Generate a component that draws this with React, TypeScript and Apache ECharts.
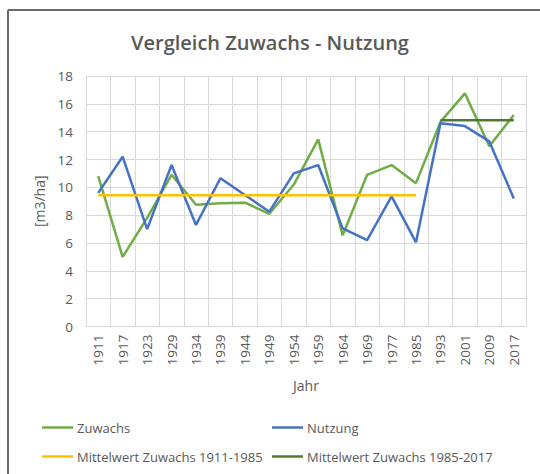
import React, { useEffect, useRef } from "react";
import * as echarts from "echarts";

const years = ["1911", "1917", "1923", "1929", "1934", "1939", "1944", "1949", "1954", "1959", "1964", "1969", "1977", "1985", "1993", "2001", "2009", "2017"];
const zuwachs = [10.8, 5.0, 7.8, 10.9, 8.75, 8.85, 8.9, 8.1, 10.2, 13.45, 6.55, 10.9, 11.6, 10.3, 14.7, 16.75, 12.95, 15.2];
const nutzung = [9.6, 12.2, 7.0, 11.6, 7.3, 10.65, 9.45, 8.25, 11.0, 11.6, 7.05, 6.2, 9.35, 6.05, 14.6, 14.4, 13.3, 9.2];
const mittel1911_1985 = [9.43, 9.43, 9.43, 9.43, 9.43, 9.43, 9.43, 9.43, 9.43, 9.43, 9.43, 9.43, 9.43, 9.43, null, null, null, null];
const mittel1985_2017 = [null, null, null, null, null, null, null, null, null, null, null, null, null, null, 14.82, 14.82, 14.82, 14.82];
const yTicks = { min: 0, max: 18, interval: 2 };

const FONT = "'Open Sans', 'Liberation Sans', sans-serif";
const TXT = "#595959";

export default function App() {
  const ref = useRef<HTMLDivElement>(null);
  useEffect(() => {
    if (!ref.current) return;
    const chart = echarts.init(ref.current, null, { renderer: "svg" });
    const lineSeries = (name: string, data: (number | null)[], color: string) => ({
      name,
      type: "line",
      data,
      symbol: "none",
      lineStyle: { color, width: 2.5 },
      itemStyle: { color },
      connectNulls: false,
    });
    const legendItem = (name: string, left: number, top: number) => ({
      data: [name],
      left,
      top,
      icon: "rect",
      itemWidth: 31,
      itemHeight: 2.5,
      itemGap: 0,
      padding: 0,
      textStyle: { color: TXT, fontSize: 13, fontFamily: FONT, padding: [0, 0, 0, -1] },
    });
    chart.setOption({
      animation: false,
      backgroundColor: "#ffffff",
      title: {
        text: "Vergleich Zuwachs - Nutzung",
        left: "center",
        top: 27,
        textStyle: { color: TXT, fontSize: 20, fontWeight: 600, fontFamily: FONT },
      },
      legend: [
        legendItem("Zuwachs", 42, 421),
        legendItem("Nutzung", 272, 421),
        legendItem("Mittelwert Zuwachs 1911-1985", 42, 450),
        legendItem("Mittelwert Zuwachs 1985-2017", 272, 450),
      ],
      grid: { left: 86, right: 14, top: 76, height: 250.5, containLabel: false },
      xAxis: {
        type: "category",
        data: years,
        boundaryGap: true,
        name: "Jahr",
        nameLocation: "middle",
        nameGap: 52,
        nameTextStyle: { color: TXT, fontSize: 14, fontFamily: FONT },
        axisLine: { show: true, lineStyle: { color: "#d9d9d9", width: 1 } },
        axisTick: { show: false },
        axisLabel: { rotate: 90, color: TXT, fontSize: 13.5, fontFamily: FONT, margin: 8 },
        splitLine: { show: true, lineStyle: { color: "#d9d9d9", width: 1 } },
      },
      yAxis: {
        type: "value",
        min: yTicks.min,
        max: yTicks.max,
        interval: yTicks.interval,
        name: "[m3/ha]",
        nameLocation: "middle",
        nameRotate: 90,
        nameGap: 31,
        nameTextStyle: { color: TXT, fontSize: 14, fontFamily: FONT },
        axisLine: { show: false },
        axisTick: { show: false },
        axisLabel: { color: TXT, fontSize: 13.5, fontFamily: FONT, margin: 13 },
        splitLine: { show: true, lineStyle: { color: "#d9d9d9", width: 1 } },
      },
      series: [
        lineSeries("Zuwachs", zuwachs, "#70AD47"),
        lineSeries("Nutzung", nutzung, "#4472C4"),
        lineSeries("Mittelwert Zuwachs 1911-1985", mittel1911_1985, "#FFC000"),
        lineSeries("Mittelwert Zuwachs 1985-2017", mittel1985_2017, "#4E7A34"),
      ],
      graphic: [
        { type: "line", shape: { x1: 8, y1: 10, x2: 540, y2: 10 }, style: { stroke: "#6a6a6a", lineWidth: 2 }, silent: true },
        { type: "line", shape: { x1: 8, y1: 10, x2: 8, y2: 474 }, style: { stroke: "#6a6a6a", lineWidth: 2 }, silent: true },
      ],
    });
    return () => chart.dispose();
  }, []);
  return <div ref={ref} style={{ position: "fixed", left: 0, top: 0, width: 540, height: 474 }} />;
}
